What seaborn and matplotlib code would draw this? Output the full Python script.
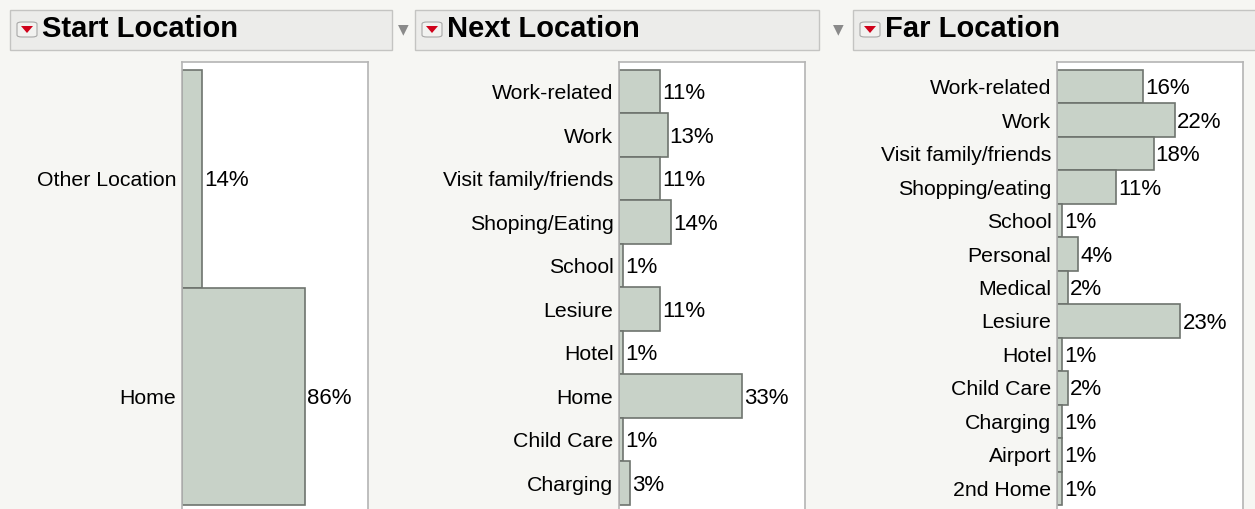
import matplotlib
matplotlib.use('Agg')
import matplotlib.pyplot as plt
import seaborn as sns
from matplotlib.patches import Rectangle, FancyBboxPatch, Polygon

W, H = 1255, 509

start_cats = ['Other Location', 'Home']
start_pct = [14, 86]

next_cats = ['Work-related', 'Work', 'Visit family/friends', 'Shoping/Eating', 'School',
             'Lesiure', 'Hotel', 'Home', 'Child Care', 'Charging']
next_pct = [11, 13, 11, 14, 1, 11, 1, 33, 1, 3]

far_cats = ['Work-related', 'Work', 'Visit family/friends', 'Shopping/eating', 'School',
            'Personal', 'Medical', 'Lesiure', 'Hotel', 'Child Care', 'Charging',
            'Airport', '2nd Home']
far_pct = [16, 22, 18, 11, 1, 4, 2, 23, 1, 2, 1, 1, 1]

bar_fill = '#c8d2c8'
bar_edge = '#6e746e'
bg = '#f6f6f3'

sns.set_theme(style='white')
plt.rcParams['font.family'] = ['Liberation Sans', 'DejaVu Sans']

fig = plt.figure(figsize=(W / 100, H / 100), dpi=100, facecolor=bg)


def fx(x):
    return x / W


def fy(y):
    return 1 - y / H


def header(x0, x1, title):
    # grey title strip with the little red-triangle button
    fig.patches.append(Rectangle((fx(x0), fy(50)), (x1 - x0) / W, 40 / H,
                                 transform=fig.transFigure, facecolor='#ececea',
                                 edgecolor='#c4c4c2', lw=1))
    fig.patches.append(FancyBboxPatch((fx(x0 + 7), fy(37)), 20 / W, 15 / H,
                                      boxstyle='round,pad=0,rounding_size=0.004',
                                      transform=fig.transFigure, facecolor='#f2f2f0',
                                      edgecolor='#a8a8a8', lw=0.8))
    fig.patches.append(Polygon([(fx(x0 + 11), fy(26)), (fx(x0 + 23), fy(26)), (fx(x0 + 17), fy(33))],
                               transform=fig.transFigure, facecolor='#d0021b', edgecolor='none'))
    fig.text(fx(x0 + 32), fy(29), title, fontsize=21, fontweight='bold', color='black',
             ha='left', va='center')


def panel(left, cats, pct):
    ax = fig.add_axes([fx(left), 0, 186 / W, (H - 62) / H])
    ax.set_facecolor('white')
    sns.barplot(x=pct, y=cats, orient='h', width=1, color=bar_fill, saturation=1,
                edgecolor=bar_edge, linewidth=1.2, ax=ax)
    n = len(cats)
    unit = 435 / n
    ax.set_ylim(n - 0.5 + 4 / unit, -0.5 - 8 / unit)
    ax.set_xlim(0, max(pct) / 0.663)
    for i, v in enumerate(pct):
        ax.annotate(f'{v}%', (v, i), xytext=(1.5, -1.5), textcoords='offset points',
                    ha='left', va='center', fontsize=16, color='black')
    ax.set_xticks([])
    ax.set_xlabel('')
    ax.set_ylabel('')
    ax.tick_params(axis='y', length=0, pad=4, labelsize=15.3, labelcolor='black')
    for s in ['left', 'top', 'right']:
        ax.spines[s].set_color('#b4b4b4')
        ax.spines[s].set_linewidth(1.2)
    ax.spines['bottom'].set_visible(False)
    return ax


header(10, 392, 'Start Location')
header(415, 819, 'Next Location')
header(853, 1262, 'Far Location')
for x in (403, 838):
    fig.text(fx(x), fy(29), '\u25bc', fontsize=10, color='#8a8a8a', ha='center', va='center',
             family=['DejaVu Sans'])

panel(182, start_cats, start_pct)
panel(619, next_cats, next_pct)
panel(1057, far_cats, far_pct)

fig.savefig('out.png', dpi=100, facecolor=bg)
